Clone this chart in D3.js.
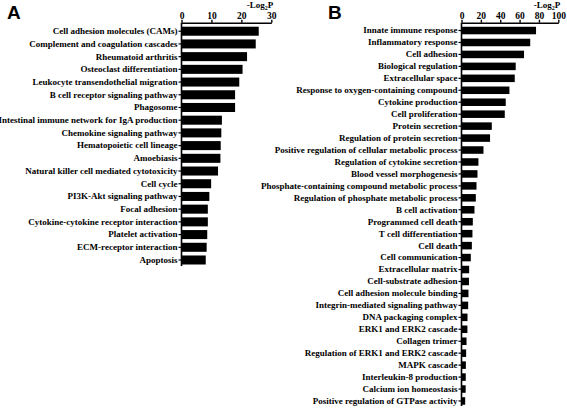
<!DOCTYPE html>
<html><head><meta charset="utf-8">
<script src="https://cdn.jsdelivr.net/npm/d3@7"></script>
<style>body{margin:0;background:#fff}svg{display:block}</style>
</head><body>
<svg id="c" width="567" height="408"></svg>
<script>
const termsA = ["Cell adhesion molecules (CAMs)","Complement and coagulation cascades","Rheumatoid arthritis","Osteoclast differentiation","Leukocyte transendothelial migration","B cell receptor signaling pathway","Phagosome","Intestinal immune network for IgA production","Chemokine signaling pathway","Hematopoietic cell lineage","Amoebiasis","Natural killer cell mediated cytotoxicity","Cell cycle","PI3K-Akt signaling pathway","Focal adhesion","Cytokine-cytokine receptor interaction","Platelet activation","ECM-receptor interaction","Apoptosis"];
const valuesA = [25.8,24.8,21.9,20.4,19.3,17.9,17.9,13.5,13.3,13.1,13.0,12.2,9.9,9.3,8.8,8.8,8.6,8.4,8.1];
const ticksA = [0,10,20,30];

const termsB = ["Innate immune response","Inflammatory response","Cell adhesion","Biological regulation","Extracellular space","Response to oxygen-containing compound","Cytokine production","Cell proliferation","Protein secretion","Regulation of protein secretion","Positive regulation of cellular metabolic process","Regulation of cytokine secretion","Blood vessel morphogenesis","Phosphate-containing compound metabolic process","Regulation of phosphate metabolic process","B cell activation","Programmed cell death","T cell differentiation","Cell death","Cell communication","Extracellular matrix","Cell-substrate adhesion","Cell adhesion molecule binding","Integrin-mediated signaling pathway","DNA packaging complex","ERK1 and ERK2 cascade","Collagen trimer","Regulation of ERK1 and ERK2 cascade","MAPK cascade","Interleukin-8 production","Calcium ion homeostasis","Positive regulation of GTPase activity"];
const valuesB = [77,71,64.6,56,55,49.5,45.7,44.7,31.3,29.5,22.7,17.5,16.5,15.5,14.8,13.4,11.7,11.3,10.7,9.6,7.9,7.7,7.2,6.9,6.2,6.1,5.2,4.8,4.5,4.4,4.3,3.8];
const ticksB = [0,20,40,60,80,100];

const svg = d3.select("#c");
const serif = "'Liberation Serif','Times New Roman',serif";

function panel(o){
  const g = svg.append("g");
  const x = d3.scaleLinear().domain(o.domain).range([o.x0, o.x1]);
  const n = o.terms.length;
  const step = o.step;
  const y = d3.scaleBand().domain(o.terms)
    .range([o.top, o.top + step*(n - o.pi + 2*o.po)])
    .paddingInner(o.pi).paddingOuter(o.po);

  g.selectAll("rect").data(o.terms).join("rect")
    .attr("x", x(0)).attr("y", d => y(d))
    .attr("width", (d,i) => x(o.values[i]) - x(0))
    .attr("height", y.bandwidth()).attr("fill", "#000");

  const ax = g.append("g").attr("transform", `translate(0,${o.top})`)
    .call(d3.axisTop(x).tickValues(o.ticks).tickSize(3).tickSizeOuter(0).tickPadding(1).tickFormat(d3.format("d")));
  ax.selectAll("text").attr("font-family", serif).attr("font-weight","bold").attr("font-size", 9.5).attr("fill","#000");
  ax.select(".domain").attr("stroke-width", 1.6);
  ax.selectAll(".tick line").attr("stroke-width", 1.4);

  const ay = g.append("g").attr("transform", `translate(${x(0)},0)`)
    .call(d3.axisLeft(y).tickSize(3).tickSizeOuter(0).tickPadding(1));
  ay.selectAll("text").attr("font-family", serif).attr("font-weight","bold").attr("font-size", o.fs).attr("fill","#000");
  ay.select(".domain").attr("stroke-width", 1.6).attr("d", `M0,${o.top}V${o.axEnd}`);
  ay.selectAll(".tick line").attr("stroke-width", 1.2);

  const t = g.append("text").attr("x", o.x1 + 2).attr("y", 8).attr("text-anchor","end")
    .attr("font-family", serif).attr("font-weight","bold").attr("font-size", 9);
  t.append("tspan").text("-Log");
  t.append("tspan").attr("font-size", 6).attr("dy", 1.5).text("2");
  t.append("tspan").attr("dy", -1.5).text("P");

  g.append("text").attr("x", o.lx).attr("y", 18.5).text(o.letter)
    .attr("font-family", "'Liberation Sans',Arial,sans-serif").attr("font-weight","bold").attr("font-size", 19);
}

panel({terms: termsA, values: valuesA, ticks: ticksA, domain:[0,30], x0:181.5, x1:271.3,
  top:22.7, step:12.71, pi:0.29, po:0.315, axEnd:266, fs:9, letter:"A", lx:7});
panel({terms: termsB, values: valuesB, ticks: ticksB, domain:[0,100], x0:461.5, x1:558.3,
  top:22.7, step:11.95, pi:0.37, po:0.34, axEnd:406, fs:9, letter:"B", lx:328});
</script>
</body></html>
